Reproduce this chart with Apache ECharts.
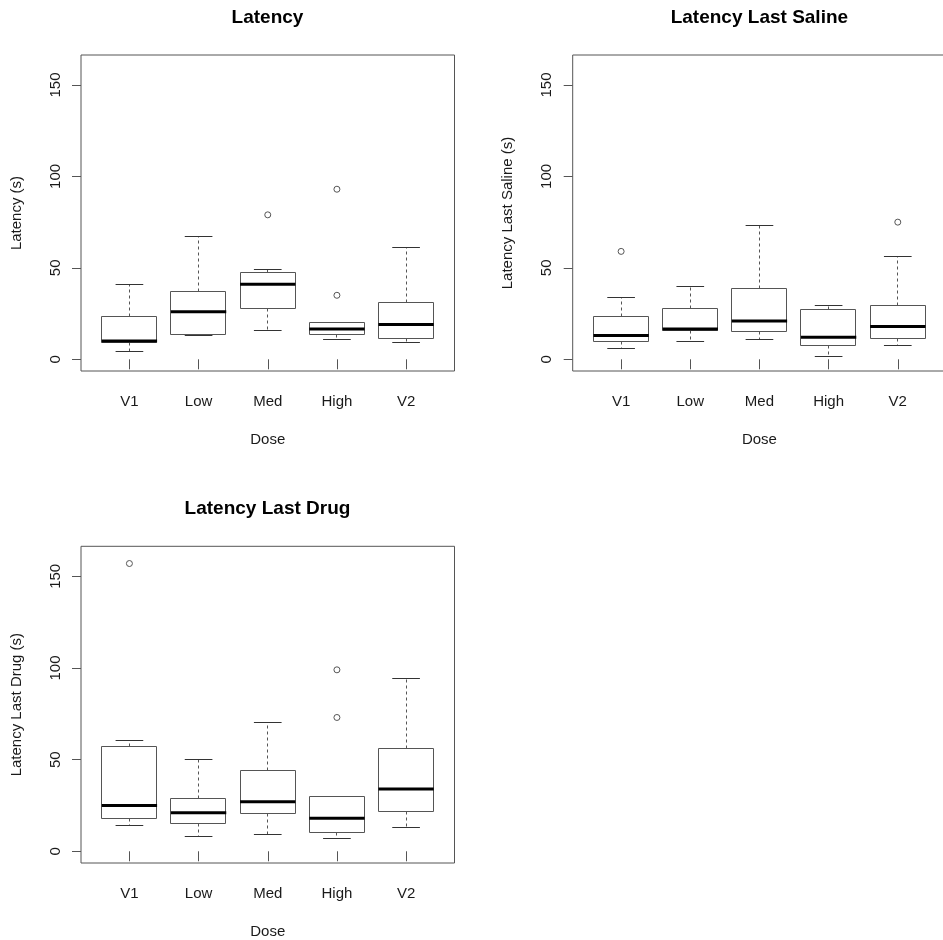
<!DOCTYPE html>
<html>
<head>
<meta charset="utf-8">
<script src="https://cdn.jsdelivr.net/npm/echarts@6/dist/echarts.min.js"></script>
<style>
html,body{margin:0;padding:0;background:#fff;}
#chart{width:943px;height:940px;}
</style>
</head>
<body>
<div id="chart"></div>
<script>
// ---- data ----
const categories = ['V1', 'Low', 'Med', 'High', 'V2'];
const yTickValues = [0, 50, 100, 150];
const xAxisTitle = 'Dose';

// [lower whisker, Q1, median, Q3, upper whisker] per category
const latencyTitle = 'Latency';
const latencyYLabel = 'Latency (s)';
const latencyBoxes = [
  [4, 9, 10, 23.3, 41],
  [13, 13.5, 26, 37, 67],
  [16, 28, 41, 47.5, 49],
  [11, 13.5, 16.5, 20, 20],
  [9, 11.5, 19, 31, 61]
];
const latencyOutliers = [['Med', 79], ['High', 35], ['High', 93]];

const salineTitle = 'Latency Last Saline';
const salineYLabel = 'Latency Last Saline (s)';
const salineBoxes = [
  [6, 10, 13, 23.3, 34],
  [10, 16, 16.5, 28, 40],
  [11, 15.3, 21, 38.5, 73],
  [1.5, 7.7, 12, 27, 29.5],
  [7.7, 11.5, 18, 29.5, 56]
];
const salineOutliers = [['V1', 59], ['V2', 75]];

const drugTitle = 'Latency Last Drug';
const drugYLabel = 'Latency Last Drug (s)';
const drugBoxes = [
  [14, 17.7, 25, 57, 60.5],
  [8, 15, 21, 29, 50],
  [9, 20.5, 27, 44, 70],
  [7, 10.2, 18, 30, 30],
  [13, 21.7, 34, 56, 94]
];
const drugOutliers = [['V1', 157], ['High', 73], ['High', 99]];

// ---- layout / style ----
const FONT = '"Liberation Sans", Arial, Helvetica, sans-serif';
const TEXT = '#1a1a1a';
const LINE = '#555';
const panels = [
  {title: latencyTitle, ylab: latencyYLabel, boxes: latencyBoxes, out: latencyOutliers, box: {left: 81, top: 55, width: 373.5, height: 316}, tx: 267.5, ty: 18},
  {title: salineTitle, ylab: salineYLabel, boxes: salineBoxes, out: salineOutliers, box: {left: 572.7, top: 55, width: 373.5, height: 316}, tx: 759.4, ty: 18},
  {title: drugTitle, ylab: drugYLabel, boxes: drugBoxes, out: drugOutliers, box: {left: 81, top: 546.3, width: 373.5, height: 316.7}, tx: 267.5, ty: 508.5}
];

const xTickValues = categories.map((c, i) => i + 1);

function crisp(v) { return Math.round(v - 0.5) + 0.5; }

function renderBox(params, api) {
  const x = api.value(0);
  const lo = api.value(1), q1 = api.value(2), med = api.value(3), q3 = api.value(4), hi = api.value(5);
  const hw = 0.4, cw = 0.2;
  const xc = crisp(api.coord([x, 0])[0]);
  const xl = api.coord([x - hw, 0])[0];
  const xr = api.coord([x + hw, 0])[0];
  const cl = api.coord([x - cw, 0])[0];
  const cr = api.coord([x + cw, 0])[0];
  const yLo = crisp(api.coord([x, lo])[1]);
  const yQ1 = crisp(api.coord([x, q1])[1]);
  const yMed = api.coord([x, med])[1];
  const yQ3 = crisp(api.coord([x, q3])[1]);
  const yHi = crisp(api.coord([x, hi])[1]);
  const dash = {stroke: LINE, lineWidth: 1, lineDash: [3, 3]};
  const solid = {stroke: '#333', lineWidth: 1};
  const children = [
    {type: 'line', shape: {x1: xc, y1: yQ1, x2: xc, y2: yLo}, style: dash},
    {type: 'line', shape: {x1: xc, y1: yQ3, x2: xc, y2: yHi}, style: dash},
    {type: 'line', shape: {x1: cl, y1: yLo, x2: cr, y2: yLo}, style: solid},
    {type: 'line', shape: {x1: cl, y1: yHi, x2: cr, y2: yHi}, style: solid},
    {type: 'rect', shape: {x: crisp(xl), y: yQ3, width: Math.round(xr - xl), height: yQ1 - yQ3}, style: {fill: '#fff', stroke: LINE, lineWidth: 1}},
    {type: 'line', shape: {x1: xl, y1: yMed, x2: xr, y2: yMed}, style: {stroke: '#000', lineWidth: 3}}
  ];
  return {type: 'group', children: children};
}

const grid = [], xAxis = [], yAxis = [], series = [], graphic = [];
panels.forEach((p, i) => {
  grid.push(Object.assign({show: true, borderColor: LINE, borderWidth: 1, backgroundColor: 'transparent', containLabel: false, outerBoundsMode: 'none'}, p.box));
  xAxis.push({
    type: 'value', gridIndex: i, min: 0.3, max: 5.7,
    axisLine: {show: false}, splitLine: {show: false},
    axisTick: {show: true, customValues: xTickValues, length: 10, lineStyle: {color: LINE}},
    axisLabel: {customValues: xTickValues, formatter: v => categories[Math.round(v) - 1], margin: 23, fontSize: 15, color: TEXT, fontFamily: FONT},
    name: xAxisTitle, nameLocation: 'middle', nameGap: 61,
    nameTextStyle: {fontSize: 15, color: TEXT, fontFamily: FONT}
  });
  yAxis.push({
    type: 'value', gridIndex: i, min: -6.4, max: 166.4,
    axisLine: {show: false}, splitLine: {show: false},
    axisTick: {show: true, customValues: yTickValues, length: 9, lineStyle: {color: LINE}},
    axisLabel: {customValues: yTickValues, rotate: 90, margin: 18, fontSize: 15, color: TEXT, fontFamily: FONT},
    name: p.ylab, nameLocation: 'middle', nameGap: 57, nameRotate: 90,
    nameTextStyle: {fontSize: 15, color: TEXT, fontFamily: FONT}
  });
  series.push({
    type: 'custom', xAxisIndex: i, yAxisIndex: i,
    renderItem: renderBox,
    encode: {x: 0, y: [1, 2, 3, 4, 5]},
    data: p.boxes.map((b, k) => [k + 1].concat(b)),
    silent: true, z: 2
  });
  series.push({
    type: 'scatter', xAxisIndex: i, yAxisIndex: i,
    data: p.out.map(o => [categories.indexOf(o[0]) + 1, o[1]]),
    symbol: 'circle', symbolSize: 6,
    itemStyle: {color: '#fff', borderColor: LINE, borderWidth: 1, opacity: 1},
    silent: true, z: 3
  });
  graphic.push({
    type: 'text', x: p.tx, y: p.ty,
    style: {text: p.title, textAlign: 'center', textVerticalAlign: 'middle', font: 'bold 19px ' + FONT, fill: '#000'}
  });
});

const chart = echarts.init(document.getElementById('chart'), null, {renderer: 'canvas'});
chart.setOption({
  animation: false,
  backgroundColor: '#fff',
  grid: grid, xAxis: xAxis, yAxis: yAxis, series: series, graphic: graphic
});
</script>
</body>
</html>
